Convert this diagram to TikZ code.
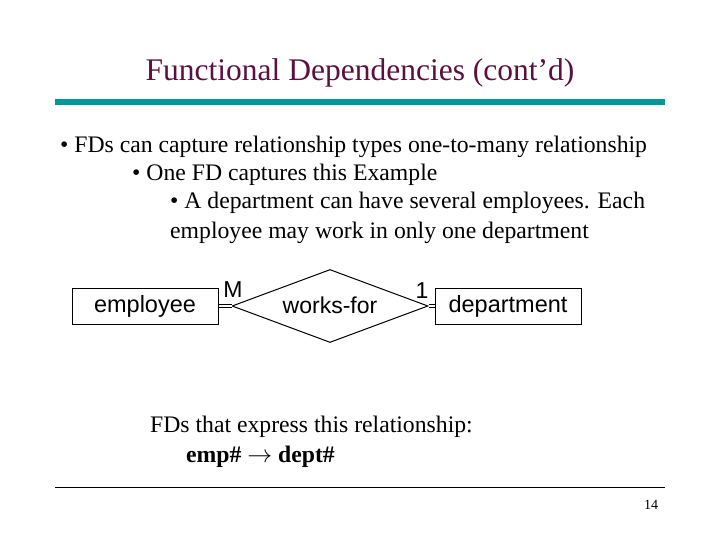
\documentclass[tikz,border=0pt]{standalone}
\usepackage{fontspec}
\setmainfont{Liberation Serif}
\newfontfamily\arialf{Liberation Sans}
\usetikzlibrary{shapes.geometric}
\definecolor{titlec}{HTML}{5A1040}
\definecolor{barc}{HTML}{009999}
\tikzset{
 body/.style={anchor=base west,inner sep=0pt,font=\fontsize{23.7}{28}\selectfont},
 ent/.style={draw,line width=1pt,minimum width=146pt,minimum height=36pt,inner sep=0pt,font=\arialf\fontsize{23.5}{28}\selectfont},
 lbl/.style={inner sep=0pt,font=\arialf\fontsize{23}{28}\selectfont},
 dbl/.style={line width=0.8pt,double distance=2pt}
}
\begin{document}
\begin{tikzpicture}[x=1pt,y=-1pt]
\useasboundingbox (0,0) rectangle (720,540);
\node[inner sep=0pt,text=titlec,font=\fontsize{31.5}{36}\selectfont] (title) at (360,73) {Functional Dependencies (cont’d)};
\fill[barc] (55,99) rectangle (665,105);
\node[body] (l1) at (60,153) {• FDs can capture relationship types one-to-many relationship};
\node[body] (l2) at (132,181) {• One FD captures this Example};
\node[body] (l3) at (170,209) {• A department can have several employees. Each};
\node[body] (l4) at (170,238) {employee may work in only one department};
\node[ent] (emp) at (145,306) {employee};
\node[ent] (dep) at (508,306) {department};
\node[diamond,draw,line width=1pt,minimum width=196pt,minimum height=73pt,aspect=2.7,inner sep=0pt] (wf) at (330,306) {};
\node[lbl] (wft) at (330,305) {works-for};
\draw[dbl] (emp.east) -- (wf.west);
\draw[dbl] (wf.east) -- (dep.west);
\node[lbl] (m) at (233,290) {M};
\node[lbl] (one) at (422,291) {1};
\node[body] (f1) at (150,432) {FDs that express this relationship:};
\node[body,font=\bfseries\fontsize{23.7}{28}\selectfont] (f2) at (186,462) {emp\# $\rightarrow$ dept\#};
\draw[line width=0.6pt] (55,487) -- (665,487);
\node[inner sep=0pt,font=\fontsize{14}{16}\selectfont] (pg) at (651,505) {14};
\end{tikzpicture}
\end{document}
